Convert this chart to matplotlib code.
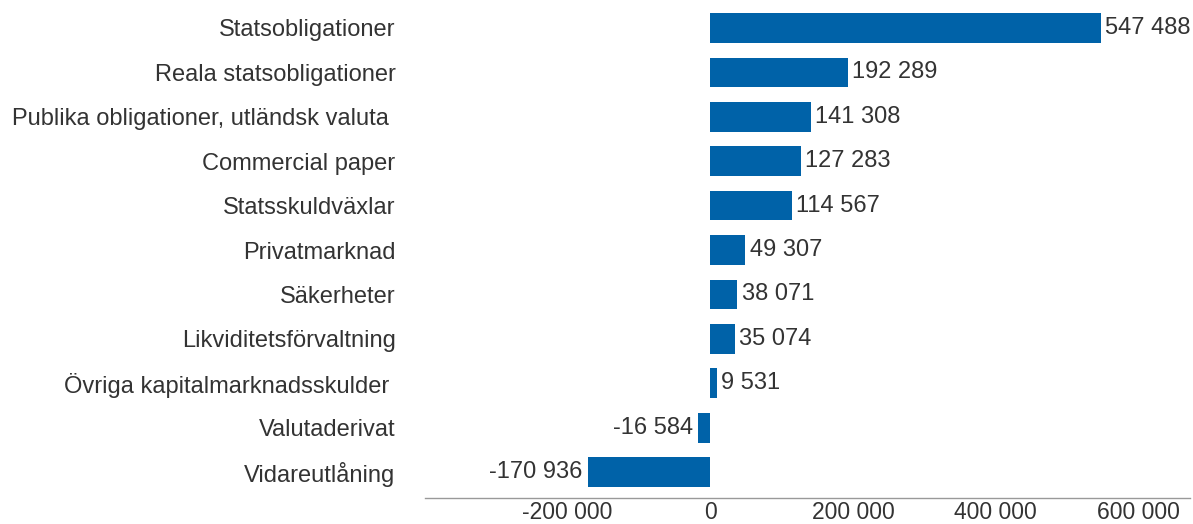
import matplotlib.pyplot as plt
from matplotlib.ticker import FuncFormatter

# data, top to bottom
categories = ['Statsobligationer', 'Reala statsobligationer', 'Publika obligationer, utländsk valuta ',
              'Commercial paper', 'Statsskuldväxlar', 'Privatmarknad', 'Säkerheter',
              'Likviditetsförvaltning', 'Övriga kapitalmarknadsskulder ', 'Valutaderivat', 'Vidareutlåning']
values = [547488, 192289, 141308, 127283, 114567, 49307, 38071, 35074, 9531, -16584, -170936]
xticks = [-200000, 0, 200000, 400000, 600000]


def fmt(v):
    return f'{v:,.0f}'.replace(',', ' ')


plt.rcParams['font.family'] = ['Liberation Sans', 'DejaVu Sans']
text_color = '#333333'
bar_color = '#0062a8'
fs = 17

fig = plt.figure(figsize=(11.93, 5.24), dpi=100)
ax = fig.add_axes([0.356, 0.0496, 0.6415, 0.9504])

pos = list(range(len(categories)))
ax.barh(pos, values, height=0.67, color=bar_color)

for p, v in zip(pos, values):
    if v >= 0:
        ax.annotate(fmt(v), (v, p), xytext=(3, 0), textcoords='offset points',
                    ha='left', va='center', fontsize=fs, color=text_color)
    else:
        ax.annotate(fmt(v), (v, p), xytext=(-4, 0), textcoords='offset points',
                    ha='right', va='center', fontsize=fs, color=text_color)

ax.set_yticks(pos)
ax.set_yticklabels(categories, fontsize=fs, color=text_color)
ax.set_ylim(10.585, -0.63)
ax.set_xlim(-400000, 672000)
ax.set_xticks(xticks)
ax.xaxis.set_major_formatter(FuncFormatter(lambda v, _: fmt(v)))
ax.tick_params(axis='x', length=0, labelsize=16.5, labelcolor=text_color, pad=2)
ax.tick_params(axis='y', length=0, pad=21)

for s in ['top', 'right', 'left']:
    ax.spines[s].set_visible(False)
ax.spines['bottom'].set_color('#999999')
ax.spines['bottom'].set_linestyle((0, (1, 1)))
ax.spines['bottom'].set_linewidth(1)

plt.savefig('out.png', dpi=100)
